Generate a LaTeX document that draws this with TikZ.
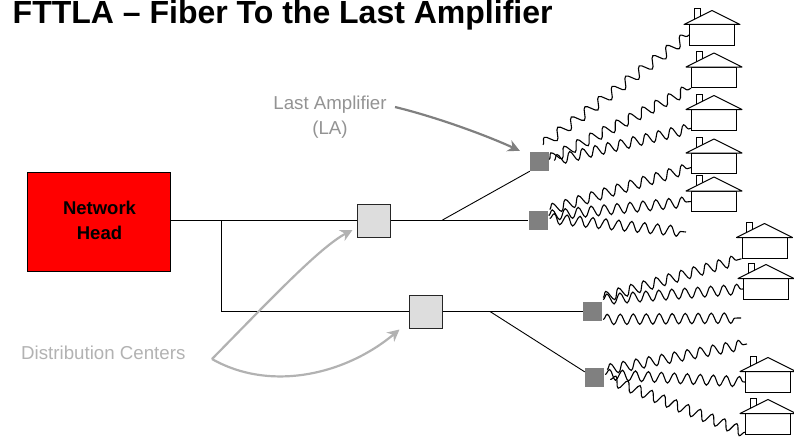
\documentclass[tikz,border=0pt]{standalone}
\usepackage{fontspec}
\setmainfont{Liberation Sans}
\usetikzlibrary{decorations.pathmorphing,arrows.meta}

\definecolor{headred}{HTML}{FF0000}
\definecolor{dcgray}{HTML}{DDDDDD}
\definecolor{lagray}{HTML}{808080}
\definecolor{labelgray}{HTML}{B2B2B2}

\tikzset{
    fiber/.style={draw=black, line width=0.9pt},
    dcbox/.style={draw=black!85, fill=dcgray, line width=1pt, minimum size=33pt, inner sep=0pt},
    labox/.style={fill=lagray, minimum size=19pt, inner sep=0pt},
    wave/.style={line width=1.1pt, decorate, decoration={snake, segment length=#1, amplitude=5.2pt}},
    wave/.default=13pt,
    callout/.style={line width=2.2pt, -{Stealth[length=12pt,width=12pt]}},
    house/.pic={
        \draw[line width=1pt] (-18,-12) -- (-18,-26) -- (-12,-26) -- (-12,-12);
        \node[draw, line width=1pt, minimum width=45pt, minimum height=20.5pt, inner sep=0pt] (-body) at (0,0) {};
        \draw[line width=1pt, fill=white, line join=round] (-28,-10.5) -- (0,-24.5) -- (28,-10.5) -- cycle;
    }
}

\begin{document}
\begin{tikzpicture}[x=1pt, y=-1pt]
    \useasboundingbox (0,0) rectangle (794,436);

    \node[anchor=base west, inner sep=0pt, font=\bfseries\fontsize{32}{36}\selectfont] at (12.5,23.5) (title) {FTTLA – Fiber To the Last Amplifier};

    \node[draw=black, fill=headred, minimum width=143pt, minimum height=99pt, inner sep=0pt] at (98.5,221.5) (head) {};
    \node[align=center, font=\bfseries\fontsize{18.5}{25}\selectfont] at (99.5,220) (headtext) {Network\\Head};

    \node[dcbox] at (373.5,221) (dc1) {};
    \node[dcbox] at (425.5,311.5) (dc2) {};

    \node[labox] at (539.5,161.5) (la1) {};
    \node[labox] at (538,220.5) (la2) {};
    \node[labox] at (592.5,311.5) (la3) {};
    \node[labox] at (594.5,377.5) (la4) {};

    \coordinate (drop) at (221,220);
    \coordinate (bend) at (221,311.5);
    \coordinate (split1) at (442.5,220);
    \coordinate (split2) at (490,311.5);

    \draw[fiber] (head.east |- drop) -- (dc1.west |- drop);
    \draw[fiber] (dc1.east |- drop) -- (la2.west |- drop);
    \draw[fiber] (split1) -- (la1.south west);
    \draw[fiber] (drop) -- (bend) -- (dc2);
    \draw[fiber] (dc2) -- (la3);
    \draw[fiber] (split2) -- (la4.150);

    \pic (h1) at (712,35) {house};
    \pic (h2) at (714,77.5) {house};
    \pic (h3) at (714,120) {house};
    \pic (h4) at (714,163.5) {house};
    \pic (h5) at (714,201.5) {house};
    \pic (h6) at (764.5,248) {house};
    \pic (h7) at (766,289) {house};
    \pic (h8) at (768,382) {house};
    \pic (h9) at (768,424) {house};

    % free ends of the drops
    \coordinate (open1) at (686,232);
    \coordinate (open2) at (741,318);
    \coordinate (open3) at (747,344);

    \draw[wave=17pt] ([shift={(3.5,-7)}]la1.north) -- (h1-body.west);
    \draw[wave=14.6pt] ([shift={(0,-2)}]la1.east) -- (h2-body.south west);
    \draw[wave] ([shift={(5,-1)}]la1.east) -- (h3-body.200);
    \draw[wave=13.5pt] ([shift={(2,-11)}]la2.east) -- (h4-body.190);
    \draw[wave] ([shift={(1,-5)}]la2.east) -- (h5-body.west);
    \draw[wave] ([shift={(2,-2)}]la2.east) -- (open1);
    \draw[wave] ([shift={(1,-14)}]la3.east) -- (h6-body.south west);
    \draw[wave] ([shift={(1,-12)}]la3.east) -- (h7-body.west);
    \draw[wave] ([shift={(1,8)}]la3.east) -- (open2);
    \draw[wave] ([shift={(3,-8)}]la4.east) -- (open3);
    \draw[wave] ([shift={(1,-3)}]la4.east) -- (h8-body.west);
    \draw[wave] ([shift={(6,2)}]la4.east) -- (h9-body.200);

    \node[text=lagray!85, align=center, font=\fontsize{18.7}{25}\selectfont] at (330,117) (lalabel) {Last Amplifier\\(LA)};
    \node[text=labelgray, font=\fontsize{18.7}{22}\selectfont, anchor=base west, inner sep=0pt] at (21,359.3) (dclabel) {Distribution Centers};

    \coordinate (lastart) at (395,107);
    \coordinate (dcfork) at (212,359);

    \draw[callout, draw=lagray] (lastart) .. controls (440,118) and (490,137) .. ([shift={(-10,-1)}]la1.north west);
    \draw[callout, draw=labelgray] (dcfork) .. controls (270,300) and (320,247) .. ([shift={(-4,-8)}]dc1.south west);
    \draw[callout, draw=labelgray] (dcfork) .. controls (270,392) and (345,375) .. ([shift={(-9,1)}]dc2.south west);
\end{tikzpicture}
\end{document}
